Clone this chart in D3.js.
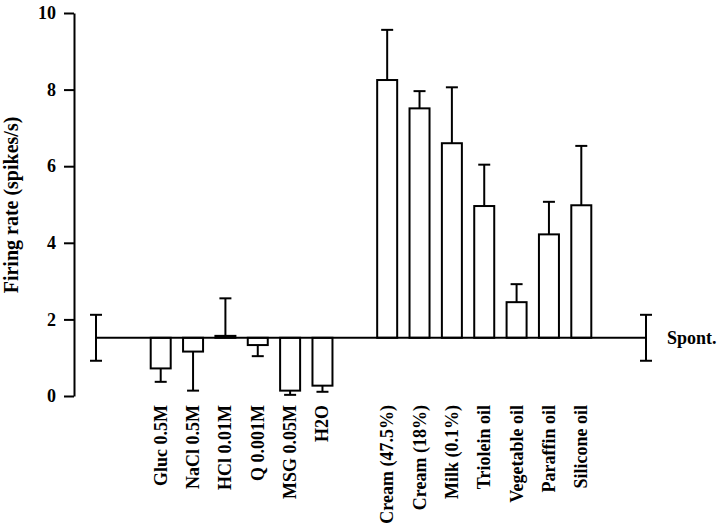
<!DOCTYPE html>
<meta charset="utf-8">
<style>
body { margin: 0; background: #fff; }
text { font-family: "Liberation Serif", "Times New Roman", serif; font-weight: bold; }
.axis path, .axis line { stroke: #000; stroke-width: 2px; }
.bars rect { fill: #fff; stroke: #000; stroke-width: 2px; }
.err line, .base { stroke: #000; stroke-width: 2px; }
</style>
<svg></svg>
<script src="https://cdn.jsdelivr.net/npm/d3@7"></script>
<script>

var labels = ["Gluc 0.5M", "NaCl 0.5M", "HCl 0.01M", "Q 0.001M", "MSG 0.05M", "H2O",
              "Cream (47.5%)", "Cream (18%)", "Milk (0.1%)", "Triolein oil",
              "Vegetable oil", "Paraffin oil", "Silicone oil"];
var rates  = [0.72, 1.16, 1.57, 1.33, 0.14, 0.27, 8.25, 7.51, 6.6, 4.96, 2.45, 4.22, 4.98];
var errors = [0.35, 1.02, 0.98, 0.29, 0.11, 0.16, 1.31, 0.45, 1.46, 1.08, 0.47, 0.85, 1.55];
var spont = 1.52, spontErr = 0.6;
var yTicks = [0, 2, 4, 6, 8, 10];

var width = 720, height = 527;

var svg = d3.select("svg")
    .attr("width", width)
    .attr("height", height);

// slots: spont, gap, 6 tastes, gap, 7 fats, gap, spont
var slots = ["spontL", "g1"].concat(labels.slice(0, 6), ["g2"], labels.slice(6), ["g3", "spontR"]);

var x = d3.scalePoint()
    .domain(slots)
    .range([96, 646]);

var y = d3.scaleLinear()
    .domain([0, 10])
    .range([396, 13]);

var barW = 20, cap = 6;

svg.append("g")
    .attr("class", "axis")
    .attr("transform", "translate(74,0)")
    .call(d3.axisLeft(y).tickValues(yTicks).tickSize(10).tickSizeOuter(0).tickPadding(8))
    .call(function(g) {
      g.selectAll("text").attr("font-size", 18).attr("fill", "#000")
        .attr("font-family", "Liberation Serif").attr("font-weight", "bold");
    });

svg.append("text")
    .attr("transform", "translate(18,205) rotate(-90)")
    .attr("text-anchor", "middle")
    .attr("font-size", 20)
    .text("Firing rate (spikes/s)");

var data = labels.map(function(l, i) { return {name: l, v: rates[i], e: errors[i]}; });

// bars hang from the spontaneous baseline
svg.append("g").attr("class", "bars")
  .selectAll("rect")
  .data(data)
  .enter().append("rect")
    .attr("x", function(d) { return x(d.name) - barW / 2; })
    .attr("width", barW)
    .attr("y", function(d) { return Math.min(y(d.v), y(spont)); })
    .attr("height", function(d) { return Math.abs(y(d.v) - y(spont)); });

var err = svg.append("g").attr("class", "err");

data.forEach(function(d) {
  var tip = d.v >= spont ? d.v + d.e : d.v - d.e;
  var cx = x(d.name);
  err.append("line").attr("x1", cx).attr("x2", cx).attr("y1", y(d.v)).attr("y2", y(tip));
  err.append("line").attr("x1", cx - cap).attr("x2", cx + cap).attr("y1", y(tip)).attr("y2", y(tip));
});

["spontL", "spontR"].forEach(function(s) {
  var cx = x(s);
  err.append("line").attr("x1", cx).attr("x2", cx).attr("y1", y(spont + spontErr)).attr("y2", y(spont - spontErr));
  [spont + spontErr, spont - spontErr].forEach(function(v) {
    err.append("line").attr("x1", cx - cap).attr("x2", cx + cap).attr("y1", y(v)).attr("y2", y(v));
  });
});

svg.append("line")
    .attr("class", "base")
    .attr("x1", x("spontL")).attr("x2", x("spontR"))
    .attr("y1", y(spont)).attr("y2", y(spont));

svg.append("text")
    .attr("x", 667)
    .attr("y", y(spont) + 6)
    .attr("font-size", 18)
    .text("Spont.");

svg.append("g")
  .selectAll("text")
  .data(labels)
  .enter().append("text")
    .attr("transform", function(d) { return "translate(" + (x(d) + 6) + ",405) rotate(-90)"; })
    .attr("text-anchor", "end")
    .attr("font-size", 18)
    .text(function(d) { return d; });

</script>
